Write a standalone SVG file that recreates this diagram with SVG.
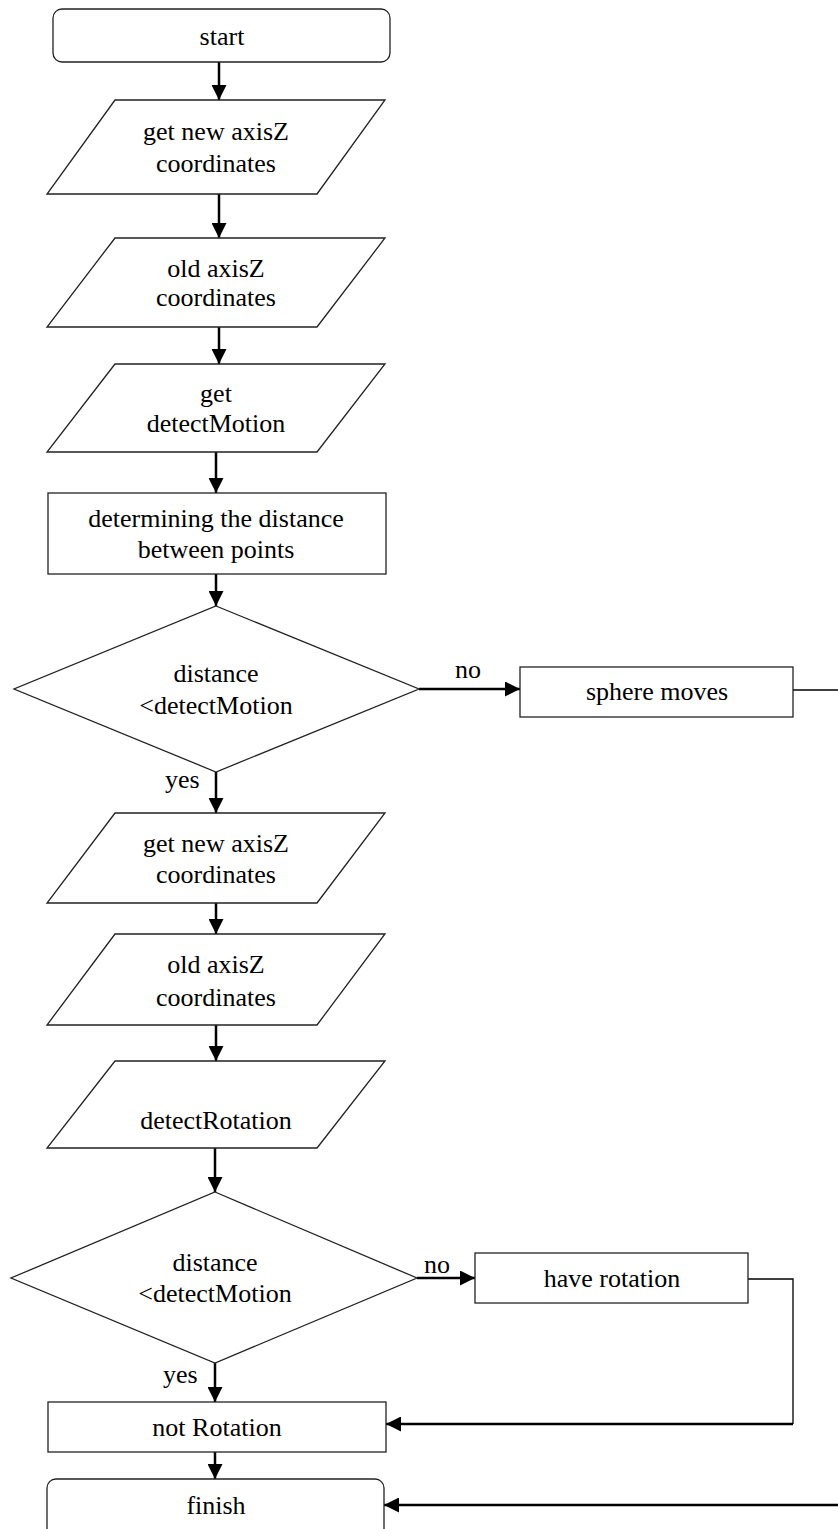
<svg xmlns="http://www.w3.org/2000/svg" width="838" height="1529" viewBox="0 0 838 1529">
<style>
.shape{fill:#fff;stroke:#222;stroke-width:1.3}
.t{font-family:"Liberation Serif","Times New Roman",serif;font-size:26px;fill:#000;text-anchor:middle}
.lbl{font-family:"Liberation Serif","Times New Roman",serif;font-size:26px;fill:#000}
.c{fill:none;stroke:#000;stroke-width:2.5}
.cn{fill:none;stroke:#000;stroke-width:1.3}
</style>
<defs>
<marker id="ah" markerUnits="userSpaceOnUse" markerWidth="15" markerHeight="15" refX="15" refY="7.5" orient="auto">
<path d="M0,0 L15,7.5 L0,15 z" fill="#000"/>
</marker>
</defs>
<rect width="838" height="1529" fill="#fff"/>

<g id="connectors">
<line class="c" x1="219" y1="62" x2="219" y2="100" marker-end="url(#ah)"/>
<line class="c" x1="219" y1="194" x2="219" y2="238" marker-end="url(#ah)"/>
<line class="c" x1="219" y1="327" x2="219" y2="364" marker-end="url(#ah)"/>
<line class="c" x1="216" y1="452" x2="216" y2="493" marker-end="url(#ah)"/>
<line class="c" x1="216" y1="574" x2="216" y2="606" marker-end="url(#ah)"/>
<line class="c" x1="419" y1="689" x2="520" y2="689" marker-end="url(#ah)"/>
<line class="c" x1="216" y1="772" x2="216" y2="813" marker-end="url(#ah)"/>
<line class="c" x1="216" y1="903" x2="216" y2="934" marker-end="url(#ah)"/>
<line class="c" x1="216" y1="1025" x2="216" y2="1061" marker-end="url(#ah)"/>
<line class="c" x1="215" y1="1148" x2="215" y2="1192" marker-end="url(#ah)"/>
<line class="c" x1="417" y1="1278" x2="475" y2="1278" marker-end="url(#ah)"/>
<line class="c" x1="215" y1="1363" x2="215" y2="1402" marker-end="url(#ah)"/>
<line class="c" x1="215" y1="1452" x2="215" y2="1479" marker-end="url(#ah)"/>
<polyline class="cn" points="748,1279 793,1279 793,1424"/>
<line class="c" x1="793" y1="1424" x2="386" y2="1424" marker-end="url(#ah)"/>
<line class="cn" x1="793" y1="690" x2="838" y2="690"/>
<line class="c" x1="838" y1="1505" x2="384" y2="1505" marker-end="url(#ah)"/>
<text class="lbl" x="455" y="678">no</text>
<text class="lbl" x="165" y="788">yes</text>
<text class="lbl" x="424" y="1273">no</text>
<text class="lbl" x="163" y="1383">yes</text>
</g>

<g id="start">
<rect class="shape" x="53" y="9" width="337" height="53" rx="9"/>
<text class="t" x="222" y="45">start</text>
</g>

<g id="getNewAxisZ1">
<polygon class="shape" points="115,100 385,100 317,194 47,194"/>
<text class="t" x="216" y="140">get new axisZ</text>
<text class="t" x="216" y="172">coordinates</text>
</g>

<g id="oldAxisZ1">
<polygon class="shape" points="115,238 385,238 317,327 47,327"/>
<text class="t" x="216" y="277">old axisZ</text>
<text class="t" x="216" y="306">coordinates</text>
</g>

<g id="getDetectMotion">
<polygon class="shape" points="115,364 385,364 317,452 47,452"/>
<text class="t" x="216" y="402">get</text>
<text class="t" x="216" y="432">detectMotion</text>
</g>

<g id="determineDistance">
<rect class="shape" x="48" y="493" width="338" height="81"/>
<text class="t" x="216" y="527">determining the distance</text>
<text class="t" x="216" y="558">between points</text>
</g>

<g id="decision1">
<polygon class="shape" points="216,606 419,689 216,772 14,689"/>
<text class="t" x="216" y="682">distance</text>
<text class="t" x="216" y="714">&lt;detectMotion</text>
</g>

<g id="sphereMoves">
<rect class="shape" x="520" y="667" width="273" height="50"/>
<text class="t" x="657" y="700">sphere moves</text>
</g>

<g id="getNewAxisZ2">
<polygon class="shape" points="115,813 385,813 317,903 47,903"/>
<text class="t" x="216" y="852">get new axisZ</text>
<text class="t" x="216" y="883">coordinates</text>
</g>

<g id="oldAxisZ2">
<polygon class="shape" points="115,934 385,934 317,1025 47,1025"/>
<text class="t" x="216" y="973">old axisZ</text>
<text class="t" x="216" y="1006">coordinates</text>
</g>

<g id="detectRotation">
<polygon class="shape" points="115,1061 385,1061 317,1148 47,1148"/>
<text class="t" x="216" y="1129">detectRotation</text>
</g>

<g id="decision2">
<polygon class="shape" points="215,1192 417,1278 215,1363 11,1278"/>
<text class="t" x="215" y="1271">distance</text>
<text class="t" x="215" y="1302">&lt;detectMotion</text>
</g>

<g id="haveRotation">
<rect class="shape" x="475" y="1253" width="273" height="50"/>
<text class="t" x="612" y="1287">have rotation</text>
</g>

<g id="notRotation">
<rect class="shape" x="48" y="1402" width="338" height="50"/>
<text class="t" x="217" y="1436">not Rotation</text>
</g>

<g id="finish">
<rect class="shape" x="47" y="1479" width="337" height="60" rx="9"/>
<text class="t" x="216" y="1514">finish</text>
</g>
</svg>
